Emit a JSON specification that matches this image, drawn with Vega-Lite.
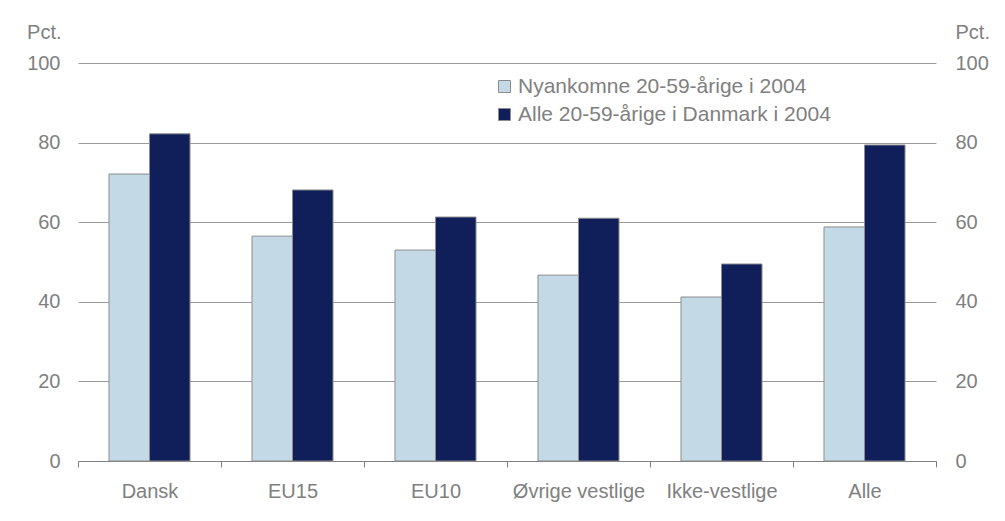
{
  "$schema": "https://vega.github.io/schema/vega-lite/v6.json",
  "autosize": "none",
  "width": 858,
  "height": 398,
  "padding": {"left": 78, "top": 63, "right": 69, "bottom": 60},
  "background": "white",
  "config": {
    "view": {"stroke": null},
    "font": "Liberation Sans",
    "axis": {"labelFont": "Liberation Sans", "titleFont": "Liberation Sans"},
    "legend": {"labelFont": "Liberation Sans"}
  },
  "data": {
    "values": [
      {"Gruppe": "Dansk", "Serie": "Nyankomne 20-59-årige i 2004", "Pct": 72.1},
      {"Gruppe": "Dansk", "Serie": "Alle 20-59-årige i Danmark i 2004", "Pct": 82.2},
      {"Gruppe": "EU15", "Serie": "Nyankomne 20-59-årige i 2004", "Pct": 56.5},
      {"Gruppe": "EU15", "Serie": "Alle 20-59-årige i Danmark i 2004", "Pct": 68.1},
      {"Gruppe": "EU10", "Serie": "Nyankomne 20-59-årige i 2004", "Pct": 53.0},
      {"Gruppe": "EU10", "Serie": "Alle 20-59-årige i Danmark i 2004", "Pct": 61.3},
      {"Gruppe": "Øvrige vestlige", "Serie": "Nyankomne 20-59-årige i 2004", "Pct": 46.7},
      {"Gruppe": "Øvrige vestlige", "Serie": "Alle 20-59-årige i Danmark i 2004", "Pct": 61.0},
      {"Gruppe": "Ikke-vestlige", "Serie": "Nyankomne 20-59-årige i 2004", "Pct": 41.2},
      {"Gruppe": "Ikke-vestlige", "Serie": "Alle 20-59-årige i Danmark i 2004", "Pct": 49.5},
      {"Gruppe": "Alle", "Serie": "Nyankomne 20-59-årige i 2004", "Pct": 58.8},
      {"Gruppe": "Alle", "Serie": "Alle 20-59-årige i Danmark i 2004", "Pct": 79.4}
    ]
  },
  "encoding": {
    "x": {
      "field": "Gruppe", "type": "nominal",
      "sort": ["Dansk", "EU15", "EU10", "Øvrige vestlige", "Ikke-vestlige", "Alle"],
      "scale": {"paddingInner": 0, "paddingOuter": 0},
      "axis": {
        "title": null, "labelAngle": 0, "tickBand": "extent", "ticks": true, "tickSize": 6,
        "tickColor": "#808080", "domainColor": "#808080", "grid": false,
        "labelFontSize": 20, "labelColor": "#808080", "labelPadding": 14
      }
    },
    "xOffset": {
      "field": "Serie", "type": "nominal",
      "sort": ["Nyankomne 20-59-årige i 2004", "Alle 20-59-årige i Danmark i 2004"],
      "scale": {"paddingInner": 0, "paddingOuter": 0.765}
    }
  },
  "layer": [
    {
      "mark": {"type": "bar", "stroke": "#8c8c8c", "strokeWidth": 1},
      "encoding": {
        "y": {
          "field": "Pct", "type": "quantitative", "scale": {"domain": [0, 100]},
          "axis": {
            "orient": "left", "values": [0, 20, 40, 60, 80, 100], "grid": true, "gridColor": "#999999",
            "ticks": false, "tickSize": 0, "domain": false, "labelPadding": 18,
            "labelFontSize": 20, "labelColor": "#808080",
            "title": "Pct.", "titleAngle": 0, "titleX": -17, "titleY": -31, "titleAlign": "right",
            "titleBaseline": "middle", "titleFontWeight": "normal", "titleFontSize": 20, "titleColor": "#808080"
          }
        },
        "color": {
          "field": "Serie", "type": "nominal",
          "sort": ["Nyankomne 20-59-årige i 2004", "Alle 20-59-årige i Danmark i 2004"],
          "scale": {"domain": ["Nyankomne 20-59-årige i 2004", "Alle 20-59-årige i Danmark i 2004"], "range": ["#C3DAE6", "#101F5A"]},
          "legend": {
            "title": null, "orient": "none", "legendX": 416, "legendY": 13, "padding": 0,
            "symbolType": "square", "symbolSize": 144, "symbolStrokeColor": "#8c8c8c", "symbolStrokeWidth": 1,
            "labelFontSize": 21, "labelColor": "#808080", "labelOffset": 3, "rowPadding": 6, "labelLimit": 0
          }
        }
      }
    },
    {
      "mark": {"type": "bar", "opacity": 0},
      "encoding": {
        "y": {
          "field": "Pct", "type": "quantitative", "scale": {"domain": [0, 100]},
          "axis": {
            "orient": "right", "values": [0, 20, 40, 60, 80, 100], "grid": false,
            "ticks": false, "tickSize": 0, "domain": false, "labelPadding": 19,
            "labelFontSize": 20, "labelColor": "#808080",
            "title": "Pct.", "titleAngle": 0, "titleX": 19, "titleY": -31, "titleAlign": "left",
            "titleBaseline": "middle", "titleFontWeight": "normal", "titleFontSize": 20, "titleColor": "#808080"
          }
        }
      }
    }
  ],
  "resolve": {"axis": {"y": "independent"}}
}
